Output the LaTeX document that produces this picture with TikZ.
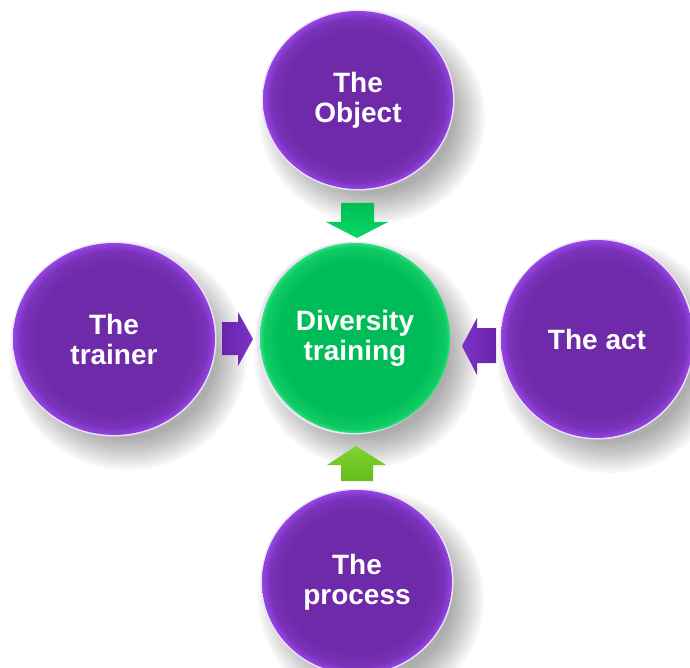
\documentclass[tikz,border=0pt]{standalone}
\usepackage{fontspec}
\setmainfont{Liberation Sans}
\usetikzlibrary{shapes.geometric}
\definecolor{pin}{RGB}{110,42,168}
\definecolor{pout}{RGB}{150,68,228}
\definecolor{gin}{RGB}{0,188,88}
\definecolor{gout}{RGB}{40,225,120}
\definecolor{arrG}{RGB}{10,215,100}
\definecolor{arrGd}{RGB}{0,190,85}
\definecolor{arrL}{RGB}{130,210,50}
\definecolor{arrLd}{RGB}{100,190,30}
\definecolor{arrP}{RGB}{125,50,200}
\definecolor{arrPd}{RGB}{105,35,170}
\definecolor{glowc}{RGB}{236,228,246}
\pgfdeclareradialshading{purpball}{\pgfpoint{0bp}{0bp}}{color(0bp)=(pin); color(19bp)=(pin); color(23bp)=(pin!70!pout); color(25bp)=(pout); color(50bp)=(pout)}
\pgfdeclareradialshading{greenball}{\pgfpoint{0bp}{0bp}}{color(0bp)=(gin); color(20bp)=(gin); color(24bp)=(gin!60!gout); color(25bp)=(gout); color(50bp)=(gout)}
\tikzset{
  ball/.style={ellipse, inner sep=0pt, text=white, align=center,
    font=\fontsize{28}{30}\selectfont\bfseries},
  purp/.style={ball, shading=purpball},
  gball/.style={ball, shading=greenball},
  glow/.style={fill=glowc},
}
\newcommand{\softshadow}[4]{%
  \foreach \k in {0,...,11}{%
    \fill[black,opacity=0.03] ({#1+14},{#2+17}) ellipse [x radius={(#3+18-2.8*\k)*1pt}, y radius={(#4+18-2.8*\k)*1pt}];
  }%
}
\begin{document}
\begin{tikzpicture}[x=1pt,y=-1pt]
\useasboundingbox (0,0) rectangle (690,668);
% shadows
\softshadow{358}{100}{95}{89}
\softshadow{114}{339}{101}{96}
\softshadow{597}{339}{96}{99}
\softshadow{357}{582}{95}{92}
\softshadow{353}{338}{95}{95}
% glows
\fill[glow] (358,100) ellipse [x radius=96.5pt, y radius=90.5pt];
\fill[glow] (114,339) ellipse [x radius=102.5pt, y radius=97.5pt];
\fill[glow] (597,339) ellipse [x radius=97.5pt, y radius=100.5pt];
\fill[glow] (357,582) ellipse [x radius=96.5pt, y radius=93.5pt];
\fill[glow] (353,338) ellipse [x radius=96.5pt, y radius=96.5pt];
% circles
\node[purp, minimum width=190pt, minimum height=178pt] (obj) at (358,100) {The\\Object};
\node[purp, minimum width=202pt, minimum height=192pt] (trn) at (114,339) {The\\trainer};
\node[purp, minimum width=192pt, minimum height=198pt] (act) at (597,339) {The act};
\node[purp, minimum width=190pt, minimum height=184pt] (prc) at (357,582) {The\\process};
\node[gball, minimum width=190pt, minimum height=190pt] (div) at (355,338) {Diversity\\training};
% block arrows
\shade[top color=arrGd, bottom color=arrG]
  (341,203) -- (374,203) -- (374,222) -- (388,222) -- (357,238) -- (326,222) -- (341,222) -- cycle;
\shade[top color=arrL, bottom color=arrLd]
  (341,481) -- (373,481) -- (373,465) -- (386,465) -- (356,446) -- (327,465) -- (341,465) -- cycle;
\shade[left color=arrPd, right color=arrP]
  (222,322) -- (238,322) -- (238,312) -- (253,339) -- (238,366) -- (238,355) -- (222,355) -- cycle;
\shade[right color=arrPd, left color=arrP]
  (496,328) -- (477,328) -- (477,318) -- (462,346) -- (477,375) -- (477,363) -- (496,363) -- cycle;
\end{tikzpicture}
\end{document}
